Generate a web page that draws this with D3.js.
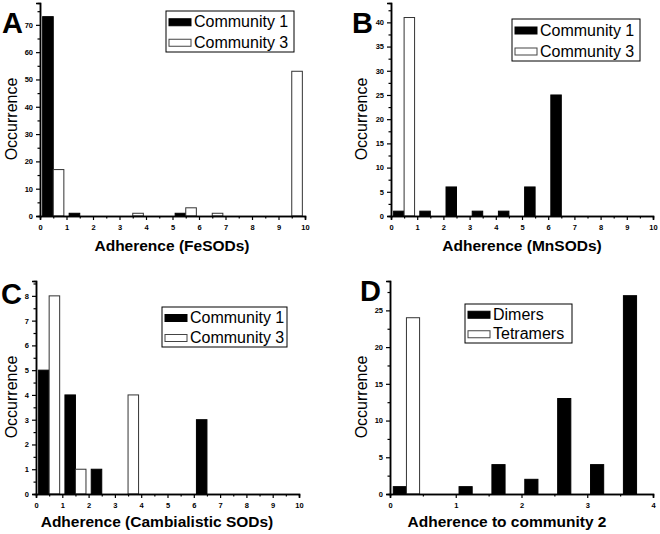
<!DOCTYPE html>
<html><head><meta charset="utf-8">
<script src="https://cdn.jsdelivr.net/npm/d3@7"></script>
<style>body{margin:0;background:#fff}svg{display:block}</style>
</head><body>
<svg id="c" width="660" height="534"></svg>
<script>
// ---- data ----
const binsTen = [0,1,2,3,4,5,6,7,8,9];           // bin starts (width 1)
const binsFour = [0,0.5,1,1.5,2,2.5,3,3.5];       // bin starts (width 0.5)

const feCommunity1 = [73,1,0,0,0,1,0,0,0,0];
const feCommunity3 = [17,0,0,1,0,3,1,0,0,53];

const mnCommunity1 = [1,1,6,1,1,6,25,0,0,0];
const mnCommunity3 = [41,0,0,0,0,0,0,0,0,0];

const caCommunity1 = [5,4,1,0,0,0,3,0,0,0];
const caCommunity3 = [8,1,0,4,0,0,0,0,0,0];

const dimers    = [1,0,1,4,2,13,4,27];
const tetramers = [24,0,0,0,0,0,0,0];

const ticksTen = [0,1,2,3,4,5,6,7,8,9,10];
const ticksFour = [0,1,2,3,4];

const panels = [
  {letter:"A", lx:2, ly:33, bins:binsTen, bw:1, s1:feCommunity1, s3:feCommunity3,
   names:["Community 1","Community 3"], xlab:"Adherence (FeSODs)",
   xr:[40,305], yr:[216,3], xd:[0,10], yd:[0,78], xt:ticksTen, xm:0.5, yt:d3.range(0,71,10), ym:5,
   leg:{x:166,y:11,w:128,h:41}, ylx:17, yly:119, xlx:172, xly:251},
  {letter:"B", lx:352, ly:33, bins:binsTen, bw:1, s1:mnCommunity1, s3:mnCommunity3,
   names:["Community 1","Community 3"], xlab:"Adherence (MnSODs)",
   xr:[391,653], yr:[216,3], xd:[0,10], yd:[0,44], xt:ticksTen, xm:0.5, yt:d3.range(0,41,5), ym:2.5,
   leg:{x:512,y:19,w:128,h:42}, ylx:367, yly:119, xlx:522, xly:251},
  {letter:"C", lx:1, ly:304, bins:binsTen, bw:1, s1:caCommunity1, s3:caCommunity3,
   names:["Community 1","Community 3"], xlab:"Adherence (Cambialistic SODs)",
   xr:[36,299], yr:[494,281], xd:[0,10], yd:[0,8.6], xt:ticksTen, xm:0.5, yt:d3.range(0,9,1), ym:0.5,
   leg:{x:162,y:307,w:125,h:40}, ylx:17, yly:397, xlx:157, xly:527},
  {letter:"D", lx:360, ly:301, bins:binsFour, bw:0.5, s1:dimers, s3:tetramers,
   names:["Dimers","Tetramers"], xlab:"Adherence to community 2",
   xr:[390,653], yr:[494,281], xd:[0,4], yd:[0,29], xt:ticksFour, xm:0.5, yt:d3.range(0,26,5), ym:2.5,
   leg:{x:465,y:304,w:107,h:39}, ylx:367, yly:397, xlx:507, xly:527}
];

const svg = d3.select("#c");
const FONT = "Liberation Sans, Arial, sans-serif";

panels.forEach(p => {
  const g = svg.append("g");
  const x = d3.scaleLinear().domain(p.xd).range(p.xr);
  const y = d3.scaleLinear().domain(p.yd).range(p.yr);

  // bars
  const rows1 = p.bins.map((b,i)=>({b, v:p.s1[i]})).filter(d=>d.v>0);
  const rows3 = p.bins.map((b,i)=>({b, v:p.s3[i]})).filter(d=>d.v>0);
  g.selectAll(".b1").data(rows1).join("rect")
    .attr("x", d=>x(d.b+0.1*p.bw)).attr("width", d=>x(d.b+0.5*p.bw)-x(d.b+0.1*p.bw))
    .attr("y", d=>y(d.v)).attr("height", d=>y(0)-y(d.v))
    .attr("fill","#000").attr("stroke","#000").attr("stroke-width",1);
  g.selectAll(".b3").data(rows3).join("rect")
    .attr("x", d=>x(d.b+0.5*p.bw)).attr("width", d=>x(d.b+0.9*p.bw)-x(d.b+0.5*p.bw))
    .attr("y", d=>y(d.v)).attr("height", d=>y(0)-y(d.v))
    .attr("fill","#fff").attr("stroke","#333").attr("stroke-width",1);

  // x axis
  const xMinor = d3.range(p.xd[0]+p.xm, p.xd[1], 1);
  const xa = g.append("g").attr("transform",`translate(0,${p.yr[0]})`);
  xa.call(d3.axisBottom(x).tickValues(xMinor).tickSize(2.5).tickFormat(""));
  xa.call(g2=>g2.append("g").call(d3.axisBottom(x).tickValues(p.xt).tickSize(4).tickPadding(4.5).tickFormat(d3.format("d"))));
  // y axis
  const yMinor = d3.range(p.yd[0]+p.ym, p.yt[p.yt.length-1]+p.ym+0.001, p.ym*2).filter(v=>v<p.yd[1]);
  const ya = g.append("g").attr("transform",`translate(${p.xr[0]},0)`);
  ya.call(d3.axisLeft(y).tickValues(yMinor).tickSize(2.5).tickFormat(""));
  ya.call(g2=>g2.append("g").call(d3.axisLeft(y).tickValues(p.yt).tickSize(4).tickPadding(3).tickFormat(d3.format("d"))));

  g.selectAll(".domain").attr("stroke","#000").attr("stroke-width",1.5);
  g.selectAll(".tick line").attr("stroke","#000").attr("stroke-width",1.2);
  xa.selectAll("text").attr("font-family",FONT).attr("font-weight","bold").attr("font-size",7.5).attr("fill","#000");
  ya.selectAll("text").attr("font-family",FONT).attr("font-weight","bold").attr("font-size",7.5).attr("fill","#000");

  // labels
  g.append("text").attr("x",p.lx).attr("y",p.ly).text(p.letter)
    .attr("font-family",FONT).attr("font-weight","bold").attr("font-size",29).attr("fill","#000");
  g.append("text").attr("transform",`translate(${p.ylx},${p.yly}) rotate(-90)`)
    .attr("text-anchor","middle").text("Occurrence")
    .attr("font-family",FONT).attr("font-size",16).attr("fill","#000");
  g.append("text").attr("x",p.xlx).attr("y",p.xly).attr("text-anchor","middle").text(p.xlab)
    .attr("font-family",FONT).attr("font-weight","bold").attr("font-size",15.5).attr("fill","#000");

  // legend
  const L = p.leg;
  const lg = g.append("g");
  lg.append("rect").attr("x",L.x).attr("y",L.y).attr("width",L.w).attr("height",L.h)
    .attr("fill","#fff").attr("stroke","#000").attr("stroke-width",1);
  const rowH = L.h/2;
  [0,1].forEach(i=>{
    const cy = L.y + rowH*(i+0.5) + 1;
    lg.append("rect").attr("x",L.x+3).attr("y",cy-3.5).attr("width",22).attr("height",7)
      .attr("fill", i===0?"#000":"#fff").attr("stroke", i===0?"#000":"#444").attr("stroke-width",1);
    lg.append("text").attr("x",L.x+28).attr("y",cy+5).text(p.names[i])
      .attr("font-family",FONT).attr("font-size",16).attr("fill","#000");
  });
});
</script>
</body></html>
